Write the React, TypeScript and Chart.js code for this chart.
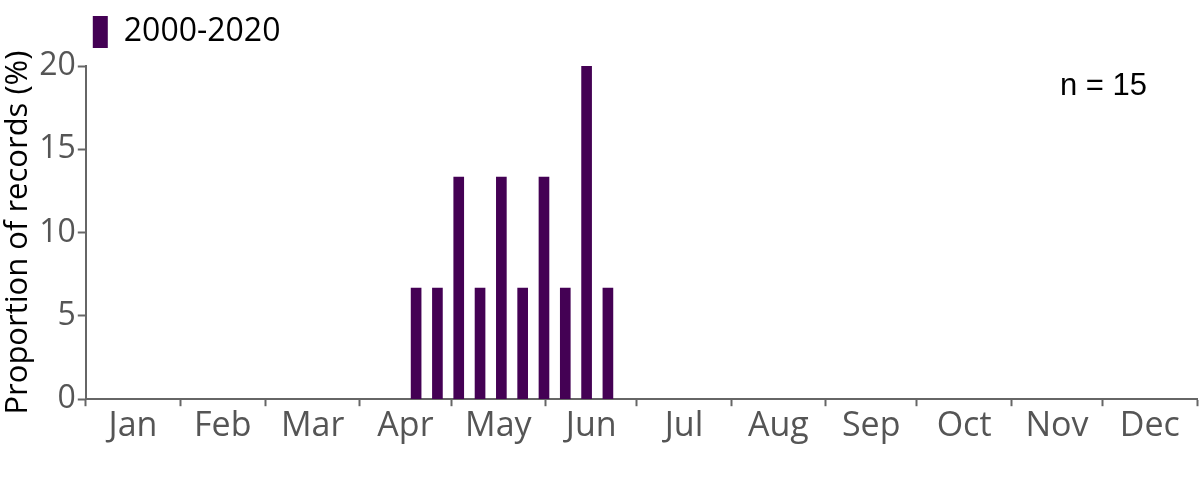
import React, { useEffect, useRef } from 'react';
import { Chart, registerables } from 'chart.js';
Chart.register(...registerables);

const months = ['Jan', 'Feb', 'Mar', 'Apr', 'May', 'Jun', 'Jul', 'Aug', 'Sep', 'Oct', 'Nov', 'Dec'];
const monthStartDays = [0, 31, 59, 90, 120, 151, 181, 212, 243, 273, 304, 334, 365];
const weeks = [15, 16, 17, 18, 19, 20, 21, 22, 23, 24];
const proportions = [6.67, 6.67, 13.33, 6.67, 13.33, 6.67, 13.33, 6.67, 20, 6.67];
const yTicks = [0, 5, 10, 15, 20];
const seriesLabel = '2000-2020';
const nLabel = 'n = 15';
const yTitle = 'Proportion of records (%)';

const FONT = '"Open Sans", sans-serif';
const BAR = '#440154';
const AXIS = '#666666';
const TICKTXT = '#555555';

export default function App() {
  const ref = useRef<HTMLCanvasElement | null>(null);
  useEffect(() => {
    if (!ref.current) return;
    const centers = months.map((_, i) => (monthStartDays[i] + monthStartDays[i + 1]) / 2);
    const centerMap = new Map<number, string>();
    centers.forEach((c, i) => centerMap.set(c, months[i]));
    const allTicks = [...monthStartDays, ...centers].sort((a, b) => a - b);

    const nPlugin = {
      id: 'nLabel',
      afterDraw(chart: any) {
        const { ctx, chartArea } = chart;
        ctx.save();
        ctx.font = '31px "Liberation Sans", Arial, sans-serif';
        ctx.fillStyle = '#000';
        ctx.textAlign = 'right';
        ctx.textBaseline = 'alphabetic';
        ctx.fillText(nLabel, chartArea.right - 50, chartArea.top + 29);
        ctx.restore();
      },
    };

    const legendSpacer = {
      id: 'legendSpacer',
      beforeInit(chart: any) {
        const legend = chart.legend;
        if (!legend) return;
        const orig = legend.fit;
        legend.fit = function () {
          orig.call(this);
          this.height += 8;
        };
      },
    };

    const chart = new Chart(ref.current, {
      type: 'bar',
      data: {
        datasets: [
          {
            label: seriesLabel,
            data: weeks.map((w, i) => ({ x: w * 7 + 3.5, y: proportions[i] })),
            backgroundColor: BAR,
            borderWidth: 0,
            barThickness: 10,
          },
        ],
      },
      options: {
        responsive: false,
        animation: false,
        layout: { padding: { left: 0, right: 3, top: 9, bottom: 33 } },
        plugins: {
          legend: {
            display: true,
            position: 'top',
            align: 'start',
            fullSize: false,
            labels: {
              boxWidth: 15,
              boxHeight: 32,
              padding: 7,
              color: '#000',
              font: { family: FONT, size: 32 },
            },
          },
          tooltip: { enabled: false },
        },
        scales: {
          x: {
            type: 'linear',
            min: 0,
            max: 365,
            offset: false,
            afterBuildTicks: (scale: any) => {
              scale.ticks = allTicks.map((v) => ({ value: v }));
            },
            ticks: {
              autoSkip: false,
              maxRotation: 0,
              padding: 0,
              color: TICKTXT,
              font: { family: FONT, size: 34 },
              callback: (value: any) => centerMap.get(Number(value)) ?? '',
            },
            grid: {
              offset: false,
              drawOnChartArea: false,
              tickLength: 7,
              tickWidth: 2,
              tickColor: (ctx: any) => (ctx.tick && centerMap.has(ctx.tick.value) ? 'rgba(0,0,0,0)' : AXIS),
            },
            border: { color: AXIS, width: 2 },
          },
          y: {
            min: 0,
            max: 20,
            afterBuildTicks: (scale: any) => {
              scale.ticks = yTicks.map((v) => ({ value: v }));
            },
            ticks: {
              padding: 2,
              color: TICKTXT,
              font: { family: FONT, size: 32 },
            },
            grid: {
              drawOnChartArea: false,
              tickLength: 8,
              tickWidth: 2,
              tickColor: AXIS,
            },
            border: { color: AXIS, width: 2 },
            title: {
              display: true,
              text: yTitle,
              color: '#000',
              font: { family: FONT, size: 31 },
              padding: { top: 0, bottom: 0 },
            },
          },
        },
      },
      plugins: [nPlugin, legendSpacer],
    } as any);
    return () => chart.destroy();
  }, []);
  return (
    <div style={{ position: 'absolute', left: 0, top: 0, width: 1200, height: 480 }}>
      <canvas ref={ref} width={1200} height={480} />
    </div>
  );
}
